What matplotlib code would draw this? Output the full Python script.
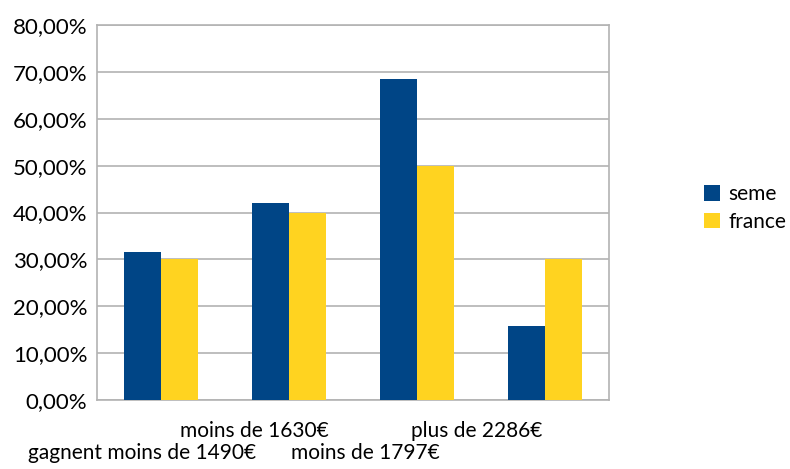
import matplotlib
matplotlib.use("Agg")
import matplotlib.pyplot as plt
import numpy as np
from matplotlib.ticker import FuncFormatter

# income brackets (labels as in the source sheet)
categories = ["gagnent moins de 1490€", "moins de 1630€", "moins de 1797€", "plus de 2286€"]
seme = [31.5, 42.0, 68.4, 15.8]
france = [30.0, 40.0, 50.0, 30.0]
series_names = ["seme", "france"]
yticks = [0, 10, 20, 30, 40, 50, 60, 70, 80]

plt.rcParams['font.family'] = ['Lato', 'DejaVu Sans']

fig = plt.figure(figsize=(7.9, 4.69), dpi=100)
ax = fig.add_axes([97 / 790, 1 - 400 / 469, 512 / 790, 375 / 469])

x = np.arange(len(categories))
w = 0.29
ax.bar(x - w / 2, seme, w, color="#004586", label=series_names[0], zorder=3)
ax.bar(x + w / 2, france, w, color="#ffd320", label=series_names[1], zorder=3)

ax.set_xlim(-0.5, len(categories) - 0.5)
ax.set_ylim(0, 80)
ax.set_yticks(yticks)
ax.yaxis.set_major_formatter(FuncFormatter(lambda v, p: f"{v:.2f}%".replace(".", ",")))
ax.tick_params(axis="y", length=0, pad=7, labelsize=16)
ax.set_xticks([])
ax.grid(axis="y", color="#b3b3b3", linewidth=1.2, zorder=0)
for s in ax.spines.values():
    s.set_color("#b3b3b3")
    s.set_linewidth(1.2)

# staggered category labels, placed like the original export
label_x = [0.088, 0.307, 0.525, 0.742]
label_y = [-0.157, -0.099, -0.157, -0.099]
for lx, ly, lab in zip(label_x, label_y, categories):
    ax.text(lx, ly, lab, transform=ax.transAxes, ha="center", va="baseline", fontsize=15)

fig.legend(loc="upper left", bbox_to_anchor=(696 / 790, 1 - 176 / 469), frameon=False,
           fontsize=15, handlelength=0.75, handleheight=0.75, handletextpad=0.4,
           labelspacing=0.35, borderaxespad=0)

fig.savefig("out.png", dpi=100)
